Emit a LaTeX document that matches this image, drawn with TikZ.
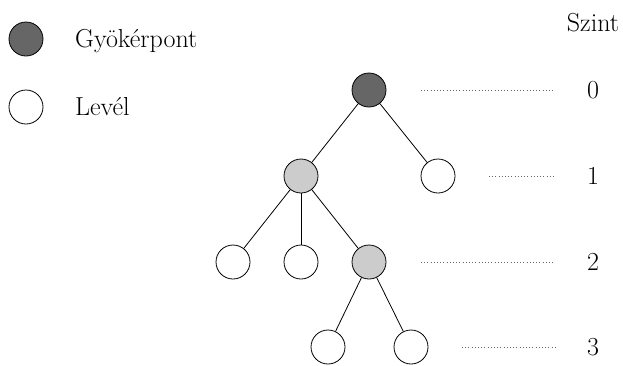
\documentclass[tikz,border=0pt]{standalone}
\usepackage{fontspec}
\begin{document}
\begin{tikzpicture}[x=1pt,y=-1pt,
  vertex/.style={circle,draw=black,line width=0.8pt,minimum size=34pt,inner sep=0pt},
  rootv/.style={vertex,fill=black!60},
  innerv/.style={vertex,fill=black!20},
  leafv/.style={vertex,fill=white},
  edge/.style={line width=0.8pt},
  levelline/.style={line width=0.6pt,black!60,dash pattern=on 0.8pt off 2.4pt},
  txt/.style={font=\fontsize{26}{30}\selectfont,inner sep=0pt}]
\useasboundingbox (0,0) rectangle (623,365);
% legend
\node[rootv] (lg1) at (26,39) {};
\node[leafv] (lg2) at (26,107) {};
\node[txt,anchor=base west] (t1) at (75,47) {Gyökérpont};
\node[txt,anchor=base west] (t2) at (75,115) {Levél};
% header
\node[txt,anchor=base] (sz) at (593,31) {Szint};
% tree
\node[rootv] (r) at (369,90) {};
\node[innerv] (a) at (301,176) {};
\node[leafv] (b) at (438,176) {};
\node[leafv] (c1) at (233,262) {};
\node[leafv] (c2) at (301,262) {};
\node[innerv] (c3) at (369,262) {};
\node[leafv] (d1) at (328,347) {};
\node[leafv] (d2) at (411,347) {};
\draw[edge] (r) -- (a);
\draw[edge] (r) -- (b);
\draw[edge] (a) -- (c1);
\draw[edge] (a) -- (c2);
\draw[edge] (a) -- (c3);
\draw[edge] (c3) -- (d1);
\draw[edge] (c3) -- (d2);
% levels
\node[txt] (l0) at (593,90) {0};
\node[txt] (l1) at (593,176) {1};
\node[txt] (l2) at (593,262) {2};
\node[txt] (l3) at (593,347) {3};
\coordinate (s0) at (421,90);
\coordinate (e0) at (555,90);
\coordinate (s1) at (489,176);
\coordinate (e1) at (556,176);
\coordinate (s2) at (421,262);
\coordinate (e2) at (555,262);
\coordinate (s3) at (462,347);
\coordinate (e3) at (556,347);
\draw[levelline] (s0) -- (e0);
\draw[levelline] (s1) -- (e1);
\draw[levelline] (s2) -- (e2);
\draw[levelline] (s3) -- (e3);
\end{tikzpicture}
\end{document}
